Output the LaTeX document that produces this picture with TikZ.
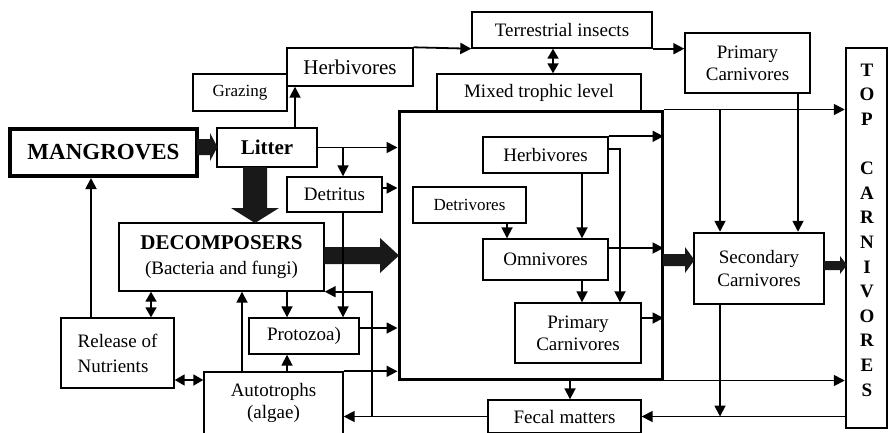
\documentclass[tikz,border=0pt]{standalone}
\usepackage{fontspec}
\setmainfont{Liberation Serif}
\usetikzlibrary{arrows.meta,calc}
\begin{document}
\begin{tikzpicture}[x=1pt,y=-1pt,
 box/.style={draw,line width=1.4pt,inner sep=0pt,align=center,font=\fontsize{19}{23}\selectfont},
 conn/.style={line width=1.8pt,-{Triangle[length=11pt,width=11pt]}},
 dbl/.style={line width=1.8pt,{Triangle[length=10pt,width=11pt]}-{Triangle[length=10pt,width=11pt]}},
 fat/.style={fill=black!90}]
\useasboundingbox (0,0) rectangle (890,432);
% boxes
\node[box,minimum width=187pt,minimum height=47pt,line width=4pt,font=\bfseries\fontsize{23}{27}\selectfont] (mang) at (103.5,152.5) {MANGROVES};
\node[box,minimum width=100pt,minimum height=39pt,line width=2.5pt,font=\bfseries\fontsize{21}{25}\selectfont] (litter) at (267,147.5) {Litter};
\node[box,minimum width=94pt,minimum height=37pt,font=\fontsize{17}{20}\selectfont] (grazing) at (240,92.5) {Grazing};
\node[box,minimum width=126pt,minimum height=38pt,font=\fontsize{21}{25}\selectfont] (herbT) at (350,67) {Herbivores};
\node[box,minimum width=180pt,minimum height=36pt] (terr) at (562,30) {Terrestrial insects};
\node[box,minimum width=125pt,minimum height=60pt,font=\fontsize{19}{22}\selectfont] (pcarnT) at (747.5,63) {Primary\\Carnivores};
\node[box,minimum width=204pt,minimum height=37pt] (mixed) at (539,92.5) {Mixed trophic level};
\node[box,minimum width=263pt,minimum height=268pt,line width=3pt] (big) at (530.5,245) {};
\node[box,minimum width=41pt,minimum height=380pt,line width=2.5pt] (topc) at (866.5,238) {};
\node[inner sep=0pt,align=center,font=\bfseries\fontsize{19}{24.6}\selectfont] (toptext) at (867,230) {T\\O\\P\\[24.6pt]C\\A\\R\\N\\I\\V\\O\\R\\E\\S};
\node[box,minimum width=130pt,minimum height=71pt,line width=2.5pt] (sec) at (759,268.5) {Secondary\\Carnivores};
\node[box,minimum width=153pt,minimum height=33pt] (fecal) at (564.5,416.5) {Fecal matters};
\node[box,minimum width=95pt,minimum height=35pt] (detritus) at (334.5,194.5) {Detritus};
\node[box,minimum width=205pt,minimum height=68pt,font=\fontsize{19}{25}\selectfont] (decomp) at (221.5,257) {{\bfseries\fontsize{21}{25}\selectfont DECOMPOSERS}\\(Bacteria and fungi)};
\node[box,minimum width=110pt,minimum height=36pt] (protozoa) at (304,336) {Protozoa)};
\node[box,minimum width=139pt,minimum height=62pt,font=\fontsize{19}{22}\selectfont] (autotr) at (273.5,403) {Autotrophs\\(algae)};
\node[box,minimum width=113pt,minimum height=70pt,align=left,font=\fontsize{19}{25}\selectfont] (release) at (117.5,353) {Release of\\Nutrients};
\node[box,minimum width=125pt,minimum height=36pt] (herbI) at (545.5,155) {Herbivores};
\node[box,minimum width=113pt,minimum height=36pt,font=\fontsize{17}{20}\selectfont] (detrI) at (469.5,205) {Detrivores};
\node[box,minimum width=125pt,minimum height=41pt] (omni) at (545.5,259.5) {Omnivores};
\node[box,minimum width=126pt,minimum height=60pt,font=\fontsize{19}{22}\selectfont] (pcarnI) at (578,333) {Primary\\Carnivores};
% fat arrows
\fill[fat] (197,139) -- (210,139) -- (210,133) -- (217.5,147) -- (210,161) -- (210,155) -- (197,155) -- cycle;
\fill[fat] (243,167) -- (267,167) -- (267,208) -- (279,208) -- (255,223) -- (231,208) -- (243,208) -- cycle;
\fill[fat] (324,247) -- (380,247) -- (380,238) -- (399,255.5) -- (380,273) -- (380,264) -- (324,264) -- cycle;
\fill[fat] (663,254) -- (685,254) -- (685,247) -- (694.5,260) -- (685,273) -- (685,266) -- (663,266) -- cycle;
\fill[fat] (824,261) -- (840,261) -- (840,256) -- (847,265) -- (840,274) -- (840,270) -- (824,270) -- cycle;
% connectors
\draw[conn] (litter.north -| 295,0) -- (herbT.south -| 295,0);
\draw[conn] (herbT.north east) -- (terr.south west);
\draw[conn] (terr.south east) -- (pcarnT.west |- terr.south east);
\draw[dbl] (terr.south -| 553,0) -- (mixed.north -| 553,0);
\draw[conn] (big.north east) -- (topc.west |- big.north east);
\draw[conn] (big.north -| 720,0) -- (sec.north -| 720,0);
\draw[conn] (pcarnT.south -| 798,0) -- (sec.north -| 798,0);
\coordinate (sd) at (720,416.5);
\draw[conn] (sec.south -| sd) -- (sd);
\draw[conn] (topc.west |- fecal.east) -- (fecal.east);
\draw[conn] (big.south -| 570,0) -- (fecal.north -| 570,0);
\draw[conn] (big.south east) -- (topc.west |- big.south east);
\draw[conn] (fecal.west) -- (autotr.east |- fecal.west);
\coordinate (fj) at (372,416.5);
\draw[conn] (fj) |- (decomp.south east);
\draw[conn] (litter.east) -- (big.west |- litter.east);
\draw[conn] (litter.east -| 343,0) -- (detritus.north -| 343,0);
\draw[conn] (detritus.east |- 0,188) -- (big.west |- 0,188);
\draw[conn] (detritus.south -| 343,0) -- (protozoa.north -| 343,0);
\draw[conn] (decomp.south -| 287,0) -- (protozoa.north -| 287,0);
\draw[conn] (protozoa.east |- 0,328) -- (big.west |- 0,328);
\draw[conn] (autotr.north -| 287,0) -- (protozoa.south -| 287,0);
\draw[conn] (autotr.north -| 242,0) -- (decomp.south -| 242,0);
\draw[conn] (autotr.north east) -- (big.west |- autotr.north east);
\draw[dbl] (release.east |- 0,380) -- (autotr.west |- 0,380);
\draw[dbl] (release.north -| 151,0) -- (decomp.south -| 151,0);
\draw[conn] (release.north -| 91,0) -- (mang.south -| 91,0);
\draw[conn] (herbI.north east) -- (big.east |- herbI.north east);
\draw[conn] (herbI.east |- 0,149) -| (pcarnI.north -| 620,0);
\draw[conn] (herbI.south -| 582,0) -- (omni.north -| 582,0);
\draw[conn] (detrI.south -| 507,0) -- (omni.north -| 507,0);
\draw[conn] (omni.east |- 0,248) -- (big.east |- 0,248);
\draw[conn] (omni.south -| 582,0) -- (pcarnI.north -| 582,0);
\draw[conn] (pcarnI.east |- 0,318) -- (big.east |- 0,318);
\end{tikzpicture}
\end{document}
